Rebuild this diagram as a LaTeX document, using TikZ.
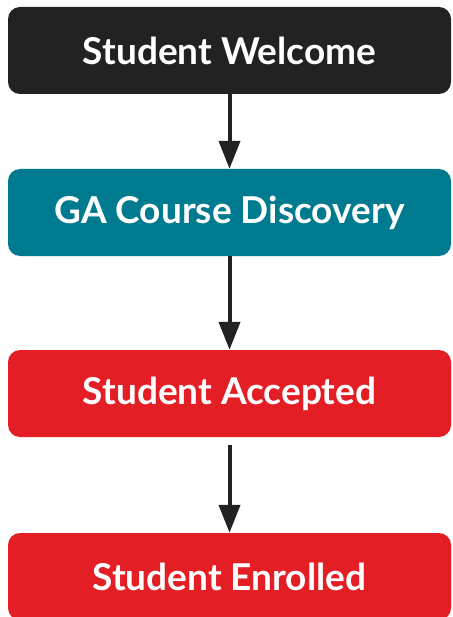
\documentclass[tikz,border=0pt]{standalone}
\usepackage{fontspec}
\setsansfont{Lato}
\usetikzlibrary{arrows.meta}
\definecolor{boxdark}{HTML}{222222}
\definecolor{boxteal}{HTML}{007A8E}
\definecolor{boxred}{HTML}{E31E25}
\begin{document}
\begin{tikzpicture}[x=1pt, y=-1pt, >={Triangle[width=21pt, length=28pt]},
    etapa/.style={rounded corners=12pt, minimum width=443pt, minimum height=87pt,
        text=white, font=\sffamily\bfseries\fontsize{37}{40}\selectfont},
    seta/.style={->, line width=4pt, draw=boxdark}]
            \useasboundingbox (0,0) rectangle (452,617);
            
            % Etapas
            \node[etapa, fill=boxdark] (welcome) at (229.5,50.5) {Student Welcome};
            \node[etapa, fill=boxteal] (discovery) at (229.5,212.5) {GA Course Discovery};
            \node[etapa, fill=boxred] (accepted) at (229.5,393.5) {Student Accepted};
            \node[etapa, fill=boxred] (enrolled) at (229.5,576.5) {Student Enrolled};
            
            % Setas
            \draw[seta] (welcome) -- (discovery);
            \draw[seta] (discovery) -- (accepted);
            \draw[seta, shorten <=8pt] (accepted) -- (enrolled);
        \end{tikzpicture}
\end{document}
